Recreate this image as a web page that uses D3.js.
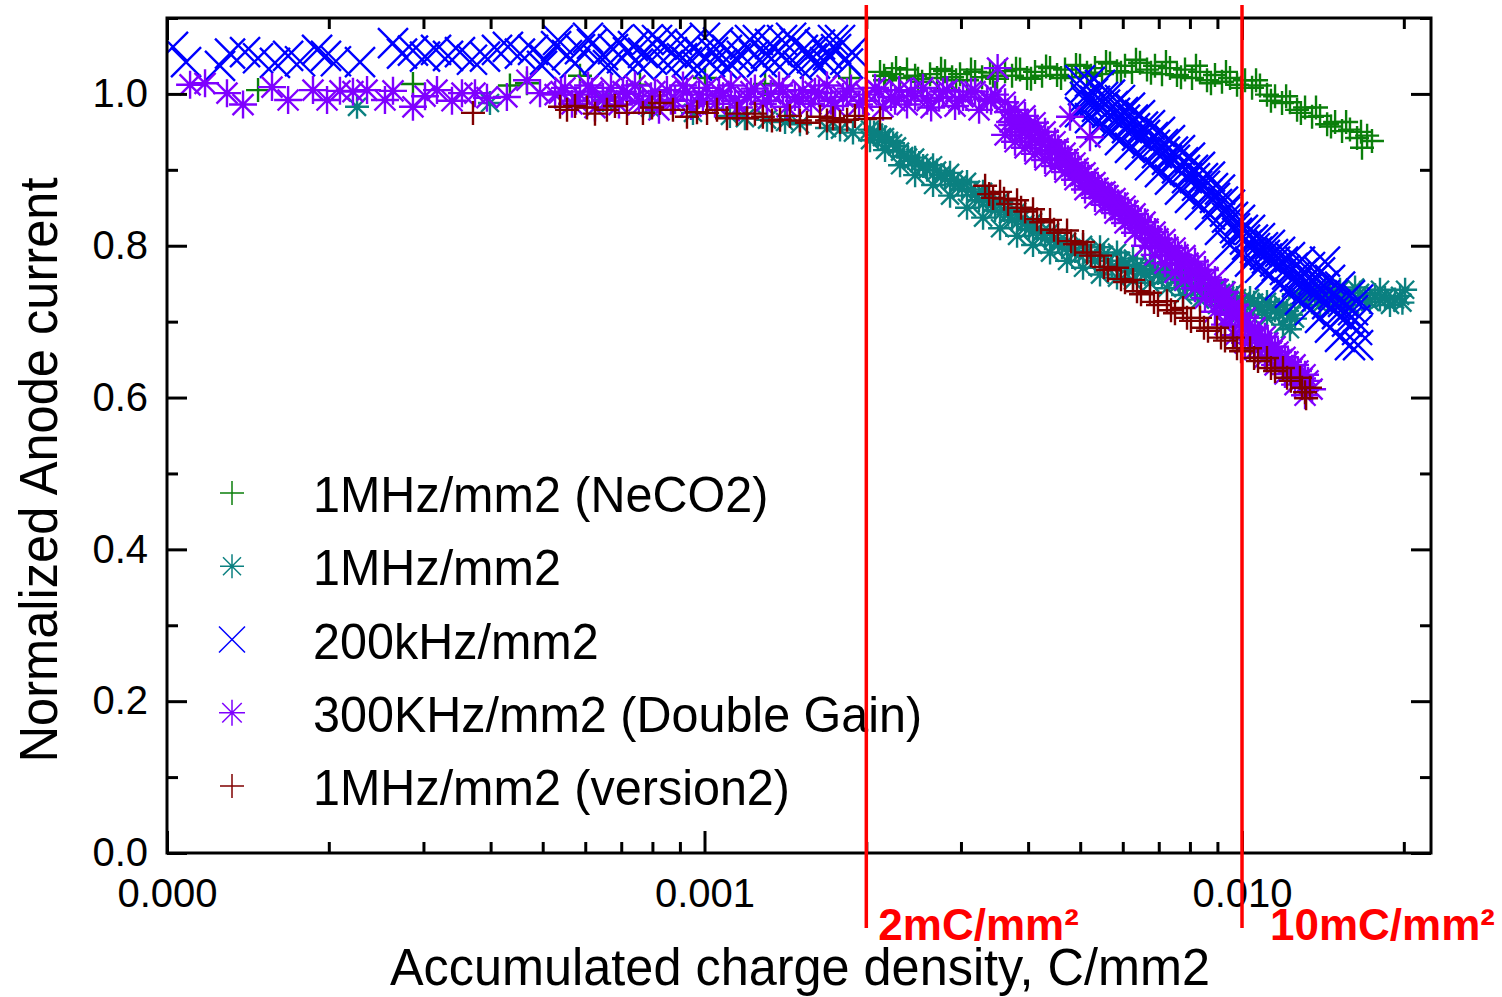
<!DOCTYPE html>
<html>
<head>
<meta charset="utf-8">
<script src="https://cdn.jsdelivr.net/npm/d3@7"></script>
<style>
  html, body { margin: 0; padding: 0; background: #fff; }
  svg { display: block; font-family: "Liberation Sans", Arial, sans-serif; }
</style>
</head>
<body>
<svg id="chart" width="1502" height="997"></svg>
<script>
const seriesNames = ["1MHz/mm2 (NeCO2)", "1MHz/mm2", "200kHz/mm2", "300KHz/mm2 (Double Gain)", "1MHz/mm2 (version2)"];

const xTicks = [0.0001, 0.001, 0.01];
const yTicks = [0, 0.2, 0.4, 0.6, 0.8, 1.0];
const markLines = [0.002, 0.01];
const markLabels = ["2mC/mm²", "10mC/mm²"];

// [accumulated charge C/mm2, normalized anode current]
const neco2 = [
  [1.477e-4,1.005],[2.868e-4,1.013],[4.345e-4,1.011],[4.674e-4,1.014],[5.866e-4,1.024],[7.585e-4,1.012],[1.002e-3,1.021],[1.296e-3,1.013],[1.865e-3,1.021],
  [2.121e-3,1.029],[2.167e-3,1.018],[2.233e-3,1.026],[2.311e-3,1.021],[2.381e-3,1.032],[2.465e-3,1.024],[2.540e-3,1.016],[2.628e-3,1.026],[2.708e-3,1.021],
  [2.802e-3,1.030],[2.888e-3,1.022],[2.988e-3,1.026],[3.079e-3,1.018],[3.187e-3,1.029],[3.284e-3,1.022],[3.398e-3,1.028],[3.502e-3,1.020],[3.624e-3,1.030],
  [3.734e-3,1.024],[3.864e-3,1.032],[3.982e-3,1.021],[4.120e-3,1.029],[4.246e-3,1.024],[4.394e-3,1.034],[4.528e-3,1.025],[4.685e-3,1.032],[4.827e-3,1.022],
  [4.996e-3,1.037],[5.148e-3,1.028],[5.327e-3,1.034],[5.490e-3,1.026],[5.681e-3,1.040],[5.854e-3,1.030],[6.058e-3,1.037],[6.242e-3,1.029],[6.460e-3,1.041],
  [6.657e-3,1.032],[6.888e-3,1.037],[7.098e-3,1.026],[7.345e-3,1.034],[7.569e-3,1.025],[7.833e-3,1.032],[8.072e-3,1.021],[8.353e-3,1.029],[8.608e-3,1.018],
  [8.907e-3,1.025],[9.178e-3,1.016],[9.499e-3,1.021],[9.789e-3,1.012],[1.013e-2,1.018],[1.044e-2,1.008],[1.080e-2,1.011],[1.113e-2,0.999],[1.152e-2,0.997],
  [1.187e-2,0.988],[1.228e-2,0.989],[1.266e-2,0.979],[1.310e-2,0.982],[1.350e-2,0.970],[1.397e-2,0.971],[1.440e-2,0.960],[1.490e-2,0.963],[1.535e-2,0.951],
  [1.588e-2,0.953],[1.637e-2,0.942],[1.672e-2,0.929],[1.709e-2,0.945],[1.745e-2,0.938],
  [2.158e-3,1.024],[2.272e-3,1.034],[2.496e-3,1.020],[2.755e-3,1.033],[2.938e-3,1.018],[3.132e-3,1.032],[3.442e-3,1.024],[3.798e-3,1.033],
  [4.050e-3,1.020],[4.320e-3,1.036],[4.606e-3,1.021],[4.911e-3,1.038],[5.236e-3,1.024],[5.585e-3,1.042],[5.954e-3,1.028],[6.350e-3,1.045],
  [6.771e-3,1.028],[7.220e-3,1.042],[7.700e-3,1.022],[8.211e-3,1.037],[8.755e-3,1.014],[9.337e-3,1.029],[9.958e-3,1.008],[1.062e-2,1.018],
  [1.132e-2,0.991],[1.208e-2,0.997],[1.287e-2,0.975],[1.373e-2,0.982],[1.464e-2,0.957],[1.562e-2,0.963],[1.665e-2,0.950]
];

const mhz1 = [
  [2.257e-4,0.983],[3.989e-4,0.988],[6.473e-4,0.992],[7.917e-4,0.982],[9.518e-4,0.975],[1.115e-3,0.971],[1.189e-3,0.968],[1.307e-3,0.966],
  [1.412e-3,0.963],[1.505e-3,0.960],[1.690e-3,0.955],[1.787e-3,0.953],[1.889e-3,0.949],
  [2.032e-3,0.953],[2.032e-3,0.939],[2.103e-3,0.946],[2.167e-3,0.943],[2.167e-3,0.926],[2.243e-3,0.935],
  [2.311e-3,0.924],[2.311e-3,0.906],[2.392e-3,0.916],[2.465e-3,0.916],[2.465e-3,0.893],[2.551e-3,0.905],
  [2.662e-3,0.906],[2.662e-3,0.880],[2.755e-3,0.893],[2.863e-3,0.896],[2.863e-3,0.866],[2.963e-3,0.881],
  [3.079e-3,0.884],[3.079e-3,0.850],[3.187e-3,0.867],[3.298e-3,0.871],[3.298e-3,0.837],[3.413e-3,0.854],
  [3.547e-3,0.858],[3.547e-3,0.823],[3.671e-3,0.841],[3.815e-3,0.845],[3.815e-3,0.813],[3.950e-3,0.829],
  [4.085e-3,0.831],[4.085e-3,0.801],[4.229e-3,0.817],[4.394e-3,0.818],[4.394e-3,0.791],[4.547e-3,0.805],
  [4.726e-3,0.805],[4.726e-3,0.780],[4.892e-3,0.793],[5.061e-3,0.801],[5.061e-3,0.771],[5.238e-3,0.787],
  [5.443e-3,0.798],[5.443e-3,0.762],[5.633e-3,0.780],[5.854e-3,0.791],[5.854e-3,0.758],[6.058e-3,0.775],
  [6.269e-3,0.783],[6.269e-3,0.754],[6.489e-3,0.768],[6.742e-3,0.777],[6.742e-3,0.751],[6.977e-3,0.764],
  [7.252e-3,0.768],[7.252e-3,0.744],[7.504e-3,0.756],[7.767e-3,0.758],[7.767e-3,0.735],[8.038e-3,0.747],
  [8.353e-3,0.751],[8.353e-3,0.729],[8.645e-3,0.740],[8.984e-3,0.744],[8.984e-3,0.722],[9.297e-3,0.734],
  [9.622e-3,0.738],[9.622e-3,0.715],[9.958e-3,0.727],[1.035e-2,0.731],[1.035e-2,0.709],[1.071e-2,0.721],
  [1.113e-2,0.726],[1.113e-2,0.705],[1.152e-2,0.715],[1.192e-2,0.722],[1.192e-2,0.696],[1.234e-2,0.709],[1.228e-2,0.690],
  [2.067e-3,0.949],[2.139e-3,0.943],[2.204e-3,0.938],[2.281e-3,0.931],[2.351e-3,0.918],[2.433e-3,0.912],[2.508e-3,0.909],[2.595e-3,0.900],
  [2.708e-3,0.899],[2.802e-3,0.888],[2.912e-3,0.887],[3.014e-3,0.875],[3.132e-3,0.874],[3.241e-3,0.860],[3.355e-3,0.860],[3.472e-3,0.847],
  [3.608e-3,0.847],[3.734e-3,0.834],[3.881e-3,0.835],[4.016e-3,0.822],[4.156e-3,0.822],[4.300e-3,0.810],[4.470e-3,0.810],[4.626e-3,0.798],
  [4.808e-3,0.797],[4.975e-3,0.788],[5.148e-3,0.792],[5.328e-3,0.780],[5.537e-3,0.788],[5.730e-3,0.772],[5.955e-3,0.780],[6.163e-3,0.767],
  [6.377e-3,0.773],[6.600e-3,0.763],[6.858e-3,0.769],[7.097e-3,0.759],[7.377e-3,0.762],[7.634e-3,0.751],[7.901e-3,0.751],[8.176e-3,0.742],
  [8.497e-3,0.744],[8.793e-3,0.735],[9.139e-3,0.738],[9.458e-3,0.729],[9.788e-3,0.731],[1.013e-2,0.722],[1.053e-2,0.725],[1.090e-2,0.715],
  [1.132e-2,0.719],[1.172e-2,0.711],[1.213e-2,0.714],[1.255e-2,0.704],
  [1.282e-2,0.733],[1.338e-2,0.742],[1.397e-2,0.722],[1.458e-2,0.735],[1.522e-2,0.742],[1.555e-2,0.731],[1.588e-2,0.722],
  [1.658e-2,0.738],[1.694e-2,0.731],[1.730e-2,0.726],[1.806e-2,0.742],[1.845e-2,0.731],[1.885e-2,0.722],[1.968e-2,0.734],[2.011e-2,0.742],
  [1.310e-2,0.729],[1.367e-2,0.735],[1.427e-2,0.745],[1.490e-2,0.726],[1.522e-2,0.729],[1.623e-2,0.745],[1.768e-2,0.735],[1.806e-2,0.729],
  [1.926e-2,0.729],[1.988e-2,0.725]
];

const khz200 = [
  [1.026e-4,1.062],[1.085e-4,1.042],[1.255e-4,1.037],[1.310e-4,1.053],[1.397e-4,1.055],[1.477e-4,1.047],[1.588e-4,1.041],[1.680e-4,1.050],
  [1.768e-4,1.043],[1.902e-4,1.058],[1.976e-4,1.050],[2.062e-4,1.043],[2.286e-4,1.042],[2.633e-4,1.067],[2.737e-4,1.053],[2.868e-4,1.057],
  [3.020e-4,1.049],[3.166e-4,1.058],[3.333e-4,1.050],[3.508e-4,1.055],[3.693e-4,1.045],[3.905e-4,1.049],[4.111e-4,1.058],[4.308e-4,1.062],
  [4.535e-4,1.053],[4.797e-4,1.058],[5.051e-4,1.045],[5.295e-4,1.063],[5.549e-4,1.051],[5.866e-4,1.059],[6.176e-4,1.066],[6.336e-4,1.045],
  [6.473e-4,1.051],[6.757e-4,1.059],[7.022e-4,1.047],[7.205e-4,1.055],[7.361e-4,1.063],[7.682e-4,1.054],[7.986e-4,1.045],[8.159e-4,1.071],
  [8.334e-4,1.066],[8.699e-4,1.055],[9.080e-4,1.047],[9.277e-4,1.042],[9.396e-4,1.065],[9.808e-4,1.054],[1.002e-3,1.074],[1.024e-3,1.042],
  [1.060e-3,1.068],[1.101e-3,1.058],[1.124e-3,1.038],[1.144e-3,1.047],[1.189e-3,1.065],[1.215e-3,1.071],[1.236e-3,1.051],[1.279e-3,1.042],
  [1.324e-3,1.066],[1.352e-3,1.042],[1.370e-3,1.055],[1.424e-3,1.045],[1.449e-3,1.074],[1.473e-3,1.068],[1.524e-3,1.058],[1.585e-3,1.047],
  [1.605e-3,1.040],[1.640e-3,1.065],[1.698e-3,1.051],[1.734e-3,1.071],[1.757e-3,1.059],[1.827e-3,1.045],[1.849e-3,1.040],[1.880e-3,1.055],
  [4.986e-4,1.037],[5.339e-4,1.071],[5.742e-4,1.040],[6.071e-4,1.074],[6.613e-4,1.038],[6.903e-4,1.071],[7.520e-4,1.040],[7.849e-4,1.072],
  [8.551e-4,1.038],[8.889e-4,1.071],[9.683e-4,1.037],[1.037e-3,1.055],[1.078e-3,1.040],[1.174e-3,1.050],[1.257e-3,1.071],[1.301e-3,1.053],
  [1.394e-3,1.071],[1.492e-3,1.037],[1.558e-3,1.055],[1.676e-3,1.042],[1.787e-3,1.071],
  [4.996e-3,1.018],[4.996e-3,0.976],[5.104e-3,0.996],[5.214e-3,1.016],[5.214e-3,0.968],[5.327e-3,0.991],
  [5.443e-3,1.012],[5.443e-3,0.959],[5.561e-3,0.986],[5.681e-3,0.999],[5.681e-3,0.950],[5.804e-3,0.975],
  [5.929e-3,0.992],[5.929e-3,0.939],[6.058e-3,0.966],[6.189e-3,0.982],[6.189e-3,0.929],[6.323e-3,0.955],
  [6.460e-3,0.972],[6.460e-3,0.920],[6.600e-3,0.946],[6.742e-3,0.959],[6.742e-3,0.906],[6.888e-3,0.933],
  [7.037e-3,0.950],[7.037e-3,0.897],[7.189e-3,0.924],[7.345e-3,0.939],[7.345e-3,0.887],[7.504e-3,0.913],
  [7.667e-3,0.926],[7.667e-3,0.874],[7.833e-3,0.900],[8.003e-3,0.916],[8.003e-3,0.863],[8.176e-3,0.889],
  [8.353e-3,0.904],[8.353e-3,0.854],[8.534e-3,0.879],[8.718e-3,0.891],[8.718e-3,0.841],[8.907e-3,0.863],
  [9.100e-3,0.874],[9.100e-3,0.821],[9.297e-3,0.845],[9.499e-3,0.854],[9.499e-3,0.801],[9.705e-3,0.823],
  [9.915e-3,0.834],[9.915e-3,0.788],[1.013e-2,0.808],[1.035e-2,0.821],[1.035e-2,0.779],[1.057e-2,0.797],
  [1.080e-2,0.810],[1.080e-2,0.771],[1.103e-2,0.788],[1.127e-2,0.801],[1.127e-2,0.762],[1.152e-2,0.779],
  [1.177e-2,0.792],[1.177e-2,0.748],[1.202e-2,0.768],[1.228e-2,0.785],[1.228e-2,0.738],[1.255e-2,0.759],
  [1.282e-2,0.779],[1.282e-2,0.729],[1.310e-2,0.752],[1.338e-2,0.772],[1.338e-2,0.715],[1.367e-2,0.742],
  [1.397e-2,0.765],[1.397e-2,0.705],[1.427e-2,0.735],[1.427e-2,0.779],[1.458e-2,0.755],[1.458e-2,0.692],[1.490e-2,0.722],
  [1.522e-2,0.746],[1.522e-2,0.680],[1.555e-2,0.713],[1.588e-2,0.735],[1.588e-2,0.669],[1.623e-2,0.702],
  [1.644e-2,0.729],[1.644e-2,0.669],
  [5.061e-3,1.005],[5.148e-3,0.989],[5.281e-3,1.001],[5.373e-3,0.983],[5.513e-3,0.996],[5.609e-3,0.975],[5.754e-3,0.984],[5.854e-3,0.964],
  [6.006e-3,0.976],[6.110e-3,0.955],[6.269e-3,0.966],[6.378e-3,0.945],[6.544e-3,0.957],[6.657e-3,0.935],[6.829e-3,0.943],[6.948e-3,0.922],
  [7.128e-3,0.934],[7.252e-3,0.913],[7.440e-3,0.924],[7.569e-3,0.902],[7.767e-3,0.910],[7.901e-3,0.889],[8.107e-3,0.900],[8.247e-3,0.879],
  [8.461e-3,0.889],[8.608e-3,0.868],[8.831e-3,0.876],[8.984e-3,0.855],[9.218e-3,0.858],[9.378e-3,0.837],[9.622e-3,0.838],[9.789e-3,0.817],
  [1.004e-2,0.821],[1.022e-2,0.801],[1.048e-2,0.808],[1.067e-2,0.792],[1.094e-2,0.798],[1.113e-2,0.783],[1.142e-2,0.789],[1.161e-2,0.773],
  [1.192e-2,0.779],[1.213e-2,0.762],[1.244e-2,0.771],[1.266e-2,0.752],[1.299e-2,0.764],[1.321e-2,0.743],[1.355e-2,0.755],[1.379e-2,0.733],
  [1.415e-2,0.747],[1.440e-2,0.723],[1.477e-2,0.736],[1.502e-2,0.710],[1.542e-2,0.726],[1.568e-2,0.700],[1.609e-2,0.715],[1.637e-2,0.689]
];

const khz300 = [
  [1.104e-4,1.012],[1.177e-4,1.014],[1.293e-4,1.001],[1.385e-4,0.986],[1.568e-4,1.009],[1.680e-4,0.992],[1.869e-4,1.005],[1.985e-4,0.992],
  [2.098e-4,1.004],[2.218e-4,1.003],[2.356e-4,1.005],[2.544e-4,0.992],[2.633e-4,1.004],[2.868e-4,0.983],[3.020e-4,0.997],[3.179e-4,1.005],
  [3.390e-4,0.991],[3.538e-4,1.001],[3.741e-4,1.001],[3.938e-4,0.995],[4.289e-4,0.996],[4.674e-4,1.018],[4.943e-4,1.001],[5.273e-4,0.999],
  [5.501e-4,1.008],[5.668e-4,0.987],[5.866e-4,0.999],[6.071e-4,1.011],[6.255e-4,0.982],[6.473e-4,0.996],[6.699e-4,1.008],[6.932e-4,0.986],
  [7.174e-4,1.000],[7.424e-4,1.011],[7.682e-4,0.988],[7.951e-4,0.997],[8.228e-4,0.979],[8.514e-4,1.005],[8.813e-4,0.992],[9.119e-4,1.011],
  [9.436e-4,0.984],[9.766e-4,0.999],[1.011e-3,1.008],[1.046e-3,0.987],[1.083e-3,0.997],[1.120e-3,1.011],[1.159e-3,0.982],[1.200e-3,0.996],
  [1.241e-3,1.007],[1.284e-3,0.987],[1.329e-3,1.000],[1.376e-3,1.011],[1.424e-3,0.983],[1.473e-3,0.996],[1.524e-3,1.005],[1.578e-3,0.987],
  [1.633e-3,1.001],[1.690e-3,1.011],[1.749e-3,0.984],[1.810e-3,0.996],[1.873e-3,1.007],[1.939e-3,0.986],[2.006e-3,0.999],[2.076e-3,1.008],
  [2.148e-3,0.983],[2.223e-3,0.996],[2.301e-3,1.005],[2.381e-3,0.986],[2.465e-3,0.997],[2.550e-3,1.008],[2.640e-3,0.982],[2.731e-3,0.995],
  [2.827e-3,1.005],[2.925e-3,0.984],[3.027e-3,0.996],[3.132e-3,1.003],[3.242e-3,0.979],[3.355e-3,0.993],[3.472e-3,0.999],[3.510e-3,1.034],
  [5.408e-4,1.003],[5.766e-4,0.991],[6.176e-4,1.003],[6.586e-4,0.991],[7.052e-4,1.003],[7.553e-4,0.991],[8.089e-4,1.003],[8.661e-4,0.991],
  [9.276e-4,1.003],[9.935e-4,0.991],[1.064e-3,1.003],[1.139e-3,0.991],[1.220e-3,1.003],[1.307e-3,0.991],[1.400e-3,1.003],[1.499e-3,0.991],
  [1.605e-3,1.003],[1.719e-3,0.991],[1.841e-3,1.003],[1.972e-3,0.991],[2.112e-3,1.003],[2.262e-3,0.991],[2.422e-3,1.003],[2.595e-3,0.991],
  [2.778e-3,1.003],[2.976e-3,0.991],[3.187e-3,1.003],[3.413e-3,0.991],
  [3.624e-3,0.989],[3.624e-3,0.946],[3.702e-3,0.963],[3.782e-3,0.979],[3.782e-3,0.937],[3.864e-3,0.954],
  [3.947e-3,0.971],[3.947e-3,0.929],[4.033e-3,0.946],[4.120e-3,0.962],[4.120e-3,0.921],[4.210e-3,0.937],
  [4.301e-3,0.950],[4.301e-3,0.913],[4.394e-3,0.926],[4.489e-3,0.937],[4.489e-3,0.905],[4.586e-3,0.915],
  [4.685e-3,0.922],[4.685e-3,0.897],[4.786e-3,0.904],[4.890e-3,0.909],[4.890e-3,0.887],[4.996e-3,0.892],
  [5.104e-3,0.896],[5.104e-3,0.874],[5.214e-3,0.879],[5.327e-3,0.883],[5.327e-3,0.863],[5.443e-3,0.868],
  [5.561e-3,0.871],[5.561e-3,0.854],[5.681e-3,0.858],[5.804e-3,0.862],[5.804e-3,0.843],[5.929e-3,0.847],
  [6.058e-3,0.852],[6.058e-3,0.830],[6.189e-3,0.835],[6.323e-3,0.842],[6.323e-3,0.817],[6.460e-3,0.823],
  [6.600e-3,0.831],[6.600e-3,0.800],[6.742e-3,0.810],[6.888e-3,0.818],[6.888e-3,0.788],[7.037e-3,0.797],
  [7.189e-3,0.808],[7.189e-3,0.777],[7.345e-3,0.787],[7.504e-3,0.797],[7.504e-3,0.765],[7.667e-3,0.776],
  [7.833e-3,0.787],[7.833e-3,0.755],[8.003e-3,0.765],[8.176e-3,0.779],[8.176e-3,0.744],[8.353e-3,0.755],
  [8.534e-3,0.768],[8.534e-3,0.731],[8.718e-3,0.742],[8.907e-3,0.755],[8.907e-3,0.713],[9.100e-3,0.726],
  [9.297e-3,0.739],[9.297e-3,0.696],[9.499e-3,0.710],[9.705e-3,0.722],[9.705e-3,0.682],[9.915e-3,0.696],
  [1.013e-2,0.705],[1.013e-2,0.672],[1.035e-2,0.683],[1.057e-2,0.692],[1.057e-2,0.663],[1.080e-2,0.672],
  [1.103e-2,0.680],[1.103e-2,0.653],[1.127e-2,0.661],[1.152e-2,0.667],[1.152e-2,0.643],[1.177e-2,0.649],
  [1.202e-2,0.653],[1.202e-2,0.631],[1.228e-2,0.636],[1.255e-2,0.643],[1.255e-2,0.617],[1.282e-2,0.623],
  [1.310e-2,0.630],[1.310e-2,0.603],
  [3.671e-3,0.976],[3.735e-3,0.959],[3.831e-3,0.966],[3.897e-3,0.950],[3.998e-3,0.958],[4.067e-3,0.942],[4.173e-3,0.950],[4.246e-3,0.933],
  [4.357e-3,0.939],[4.432e-3,0.924],[4.547e-3,0.928],[4.626e-3,0.914],[4.746e-3,0.914],[4.828e-3,0.905],[4.953e-3,0.902],[5.039e-3,0.893],
  [5.170e-3,0.889],[5.260e-3,0.880],[5.396e-3,0.876],[5.490e-3,0.870],[5.633e-3,0.866],[5.731e-3,0.859],[5.879e-3,0.856],[5.981e-3,0.848],
  [6.136e-3,0.846],[6.243e-3,0.837],[6.405e-3,0.834],[6.516e-3,0.825],[6.686e-3,0.822],[6.802e-3,0.809],[6.977e-3,0.809],[7.098e-3,0.797],
  [7.282e-3,0.798],[7.408e-3,0.787],[7.601e-3,0.788],[7.733e-3,0.775],[7.934e-3,0.777],[8.072e-3,0.764],[8.282e-3,0.768],[8.425e-3,0.755],
  [8.644e-3,0.758],[8.794e-3,0.742],[9.022e-3,0.742],[9.178e-3,0.726],[9.417e-3,0.726],[9.580e-3,0.709],[9.830e-3,0.710],[1.000e-2,0.694],
  [1.026e-2,0.694],[1.044e-2,0.681],[1.071e-2,0.682],[1.089e-2,0.672],[1.117e-2,0.672],[1.137e-2,0.661],[1.167e-2,0.660],[1.187e-2,0.650],
  [1.218e-2,0.647],[1.239e-2,0.638],[1.271e-2,0.635],[1.293e-2,0.625],[1.327e-2,0.622],[1.350e-2,0.611],
  [4.786e-3,0.970],[5.214e-3,0.943]
];

const mhzV2 = [
  [3.709e-4,0.975],[5.385e-4,0.983],[5.549e-4,0.979],[5.742e-4,0.984],[6.045e-4,0.982],[6.255e-4,0.974],[6.584e-4,0.979],[6.814e-4,0.984],
  [7.174e-4,0.975],[7.682e-4,0.975],[7.986e-4,0.982],[8.263e-4,0.988],[8.736e-4,0.979],[9.277e-4,0.970],[9.683e-4,0.976],[1.011e-3,0.975],
  [1.055e-3,0.979],[1.101e-3,0.968],[1.149e-3,0.974],[1.200e-3,0.968],[1.241e-3,0.974],[1.284e-3,0.970],[1.335e-3,0.965],[1.382e-3,0.966],
  [1.442e-3,0.971],[1.505e-3,0.965],[1.551e-3,0.962],[1.640e-3,0.970],[1.690e-3,0.965],[1.734e-3,0.968],[1.787e-3,0.963],[1.842e-3,0.966],
  [1.905e-3,0.971],[1.989e-3,0.967],[2.121e-3,0.968],
  [3.327e-3,0.879],[3.442e-3,0.863],[3.547e-3,0.871],[3.671e-3,0.855],[3.815e-3,0.860],[3.950e-3,0.845],[4.085e-3,0.848],[4.228e-3,0.831],
  [4.394e-3,0.834],[4.547e-3,0.817],[4.726e-3,0.820],[4.890e-3,0.802],[5.061e-3,0.805],[5.236e-3,0.787],[5.443e-3,0.787],[5.632e-3,0.768],
  [5.854e-3,0.771],[6.058e-3,0.752],[6.269e-3,0.755],[6.488e-3,0.736],[6.742e-3,0.738],[6.977e-3,0.722],[7.252e-3,0.727],[7.504e-3,0.711],
  [7.767e-3,0.718],[8.037e-3,0.701],[8.353e-3,0.705],[8.644e-3,0.688],[8.984e-3,0.692],[9.297e-3,0.675],[9.622e-3,0.679],[9.958e-3,0.661],
  [1.035e-2,0.665],[1.071e-2,0.648],[1.113e-2,0.652],[1.152e-2,0.635],[1.192e-2,0.639],[1.233e-2,0.622],[1.282e-2,0.626],[1.310e-2,0.607],
  [1.338e-2,0.613],[1.316e-2,0.599],
  [3.385e-3,0.868],[3.608e-3,0.862],[3.881e-3,0.850],[4.156e-3,0.835],[4.470e-3,0.821],[4.808e-3,0.806],[5.148e-3,0.791],[5.537e-3,0.772],
  [5.955e-3,0.756],[6.377e-3,0.740],[6.858e-3,0.726],[7.377e-3,0.715],[7.901e-3,0.705],[8.497e-3,0.692],[9.139e-3,0.679],[9.788e-3,0.665],
  [1.053e-2,0.652],[1.132e-2,0.639],[1.213e-2,0.626],[1.293e-2,0.613]
];

const seriesData = [neco2, mhz1, khz200, khz300, mhzV2];

// look of each series, same order as seriesNames
const seriesColor = ["#0b7f0b", "#0b8080", "#0000ff", "#7f00ff", "#800000"];
const seriesShape = ["plus", "star", "cross", "star", "plus"];
const seriesSize = [12, 12, 15, 14, 12];
const legendSize = [12, 12, 13, 13, 12];

const plotLeft = 167, plotRight = 1431, plotTop = 18, plotBottom = 853;

const x = d3.scaleLog().domain([1e-4, 0.02247]).range([plotLeft, plotRight]);
const y = d3.scaleLinear().domain([0, 1.1]).range([plotBottom, plotTop]);

const shapePath = {
  plus: s => `M${-s},0H${s}M0,${-s}V${s}`,
  cross: s => `M${-s},${-s}L${s},${s}M${-s},${s}L${s},${-s}`,
  star: s => {
    const k = s * 0.75;
    return `M${-s},0H${s}M0,${-s}V${s}M${-k},${-k}L${k},${k}M${-k},${k}L${k},${-k}`;
  }
};

const svg = d3.select("#chart");

svg.append("clipPath")
   .attr("id", "plot-clip")
   .append("rect")
   .attr("x", plotLeft)
   .attr("y", plotTop)
   .attr("width", plotRight - plotLeft)
   .attr("height", plotBottom - plotTop);

// data markers
const plot = svg.append("g").attr("clip-path", "url(#plot-clip)");

seriesData.forEach((data, i) => {
  plot.append("g")
      .selectAll("path")
      .data(data)
      .join("path")
      .attr("transform", d => `translate(${x(d[0])},${y(d[1])})`)
      .attr("d", shapePath[seriesShape[i]](seriesSize[i]))
      .attr("fill", "none")
      .attr("stroke", seriesColor[i])
      .attr("stroke-width", 2.4);
});

// axes, ticks pointing inward
const isMajorX = v => xTicks.some(t => Math.abs(t - v) / t < 1e-6);
const minorX = x.ticks().filter(v => !isMajorX(v));
const minorY = y.ticks(11).filter((v, i) => i % 2 === 1);

const styleAxis = g => {
  g.select(".domain").remove();
  g.selectAll("line").attr("stroke", "#000").attr("stroke-width", 3);
  g.attr("font-family", null).attr("font-size", 40);
  g.selectAll("text").attr("fill", "#000");
};

svg.append("g")
   .attr("transform", `translate(0,${plotBottom})`)
   .call(d3.axisBottom(x).tickValues(xTicks).tickSize(-22).tickPadding(26).tickFormat(d3.format(".3f")))
   .call(styleAxis);
svg.append("g")
   .attr("transform", `translate(0,${plotBottom})`)
   .call(d3.axisBottom(x).tickValues(minorX).tickSize(-11).tickFormat(""))
   .call(styleAxis);
svg.append("g")
   .attr("transform", `translate(0,${plotTop})`)
   .call(d3.axisTop(x).tickValues(xTicks).tickSize(-22).tickFormat(""))
   .call(styleAxis);
svg.append("g")
   .attr("transform", `translate(0,${plotTop})`)
   .call(d3.axisTop(x).tickValues(minorX).tickSize(-11).tickFormat(""))
   .call(styleAxis);

svg.append("g")
   .attr("transform", `translate(${plotLeft},0)`)
   .call(d3.axisLeft(y).tickValues(yTicks).tickSize(-20).tickPadding(19).tickFormat(d3.format(".1f")))
   .call(styleAxis);
svg.append("g")
   .attr("transform", `translate(${plotLeft},0)`)
   .call(d3.axisLeft(y).tickValues(minorY).tickSize(-11).tickFormat(""))
   .call(styleAxis);
svg.append("g")
   .attr("transform", `translate(${plotRight},0)`)
   .call(d3.axisRight(y).tickValues(yTicks).tickSize(-20).tickFormat(""))
   .call(styleAxis);
svg.append("g")
   .attr("transform", `translate(${plotRight},0)`)
   .call(d3.axisRight(y).tickValues(minorY).tickSize(-11).tickFormat(""))
   .call(styleAxis);

svg.append("rect")
   .attr("x", plotLeft)
   .attr("y", plotTop)
   .attr("width", plotRight - plotLeft)
   .attr("height", plotBottom - plotTop)
   .attr("fill", "none")
   .attr("stroke", "#000")
   .attr("stroke-width", 3);

// axis titles
svg.append("text")
   .attr("transform", `translate(57,470) rotate(-90)`)
   .attr("text-anchor", "middle")
   .attr("font-size", 54)
   .attr("textLength", 585)
   .attr("lengthAdjust", "spacingAndGlyphs")
   .text("Normalized Anode current");

svg.append("text")
   .attr("x", 800)
   .attr("y", 985)
   .attr("text-anchor", "middle")
   .attr("font-size", 51)
   .attr("textLength", 820)
   .attr("lengthAdjust", "spacingAndGlyphs")
   .text("Accumulated charge density, C/mm2");

// legend
const legend = svg.append("g");
seriesNames.forEach((name, i) => {
  const cy = 493 + i * 73.25;
  legend.append("path")
        .attr("transform", `translate(232,${cy})`)
        .attr("d", shapePath[seriesShape[i]](legendSize[i]))
        .attr("fill", "none")
        .attr("stroke", seriesColor[i])
        .attr("stroke-width", 1.5);
  const t = legend.append("text")
                  .attr("x", 313)
                  .attr("y", cy + 19)
                  .attr("font-size", 50)
                  .text(name);
  t.attr("textLength", t.node().getComputedTextLength() * 0.97)
   .attr("lengthAdjust", "spacingAndGlyphs");
});

// red markers at 2 and 10 mC/mm2
const labelGap = [12, 28];
svg.selectAll(".mark-line")
   .data(markLines)
   .join("line")
   .attr("class", "mark-line")
   .attr("x1", d => x(d))
   .attr("x2", d => x(d))
   .attr("y1", 5)
   .attr("y2", 928)
   .attr("stroke", "#ff0000")
   .attr("stroke-width", 3.5);

svg.selectAll(".mark-label")
   .data(markLines)
   .join("text")
   .attr("class", "mark-label")
   .attr("x", (d, i) => x(d) + labelGap[i])
   .attr("y", 940)
   .attr("font-size", 44)
   .attr("font-weight", "bold")
   .attr("fill", "#ff0000")
   .text((d, i) => markLabels[i]);
</script>
</body>
</html>
